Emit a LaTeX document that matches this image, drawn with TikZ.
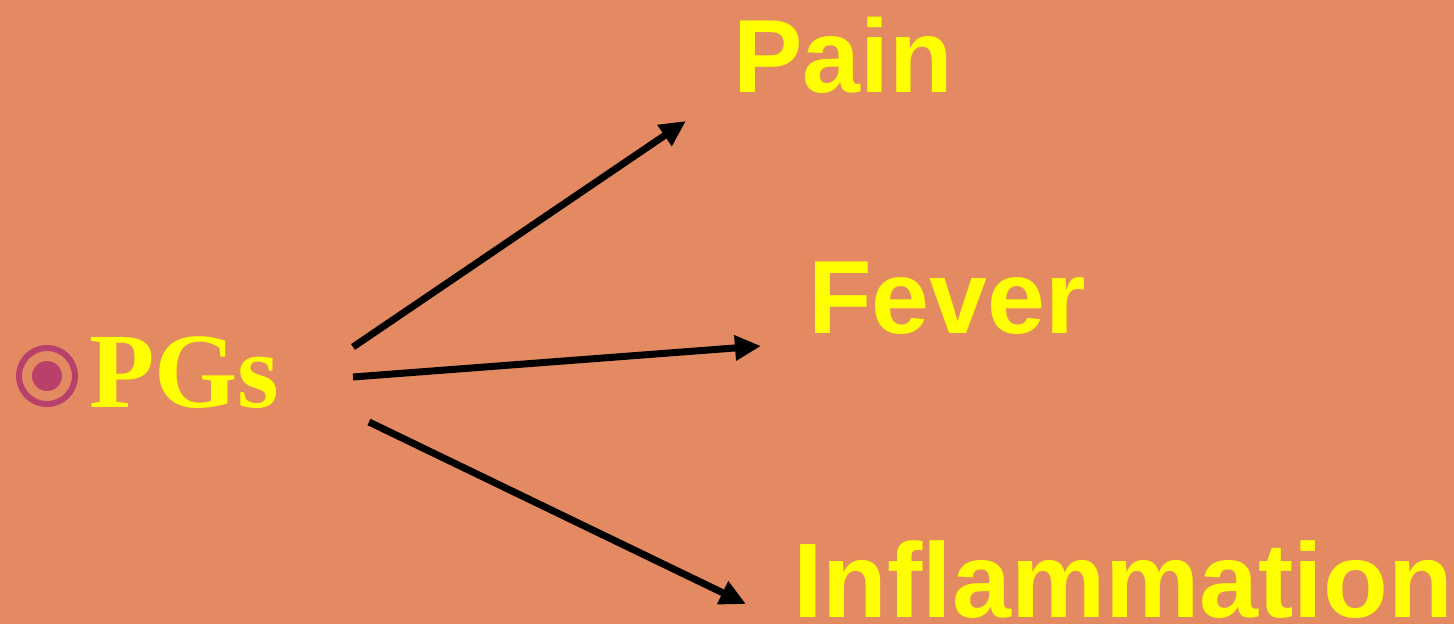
\documentclass[tikz,border=0pt]{standalone}
\usepackage{fontspec}
\setmainfont{Liberation Serif}
\newfontfamily\arialfont{Liberation Sans}
\usetikzlibrary{arrows.meta}
\definecolor{bgc}{HTML}{E48A62}
\definecolor{txt}{HTML}{FFFF00}
\definecolor{bul}{HTML}{B8406A}
\begin{document}
\begin{tikzpicture}[x=1pt,y=-1pt,
  lbl/.style={anchor=base west,inner sep=0pt,text=txt,font=\arialfont\bfseries\fontsize{104}{120}\selectfont},
  arr/.style={line width=7pt,-{Triangle[length=26pt,width=24pt]}}]
\fill[bgc] (0,0) rectangle (1454,624);
\useasboundingbox (0,0) rectangle (1454,624);
% bullet
\draw[bul,line width=6pt] (47,376) circle[radius=28];
\fill[bul] (47,376) circle[radius=15];
\node[anchor=base west,inner sep=0pt,text=txt,font=\bfseries\fontsize{107}{120}\selectfont] (pgs) at (89,407) {PGs};
\node[lbl] (pain) at (733,92) {Pain};
\node[lbl] (fever) at (808,333) {Fever};
\node[lbl,font=\arialfont\bfseries\fontsize{106}{120}\selectfont] (infl) at (793,617) {Inflammation};
\coordinate (s1) at (353,347);
\coordinate (e1) at (686,121);
\coordinate (s2) at (353,377);
\coordinate (e2) at (761,346);
\coordinate (s3) at (369,422);
\coordinate (e3) at (746,604);
\draw[arr] (s1) -- (e1);
\draw[arr] (s2) -- (e2);
\draw[arr] (s3) -- (e3);
\end{tikzpicture}
\end{document}
